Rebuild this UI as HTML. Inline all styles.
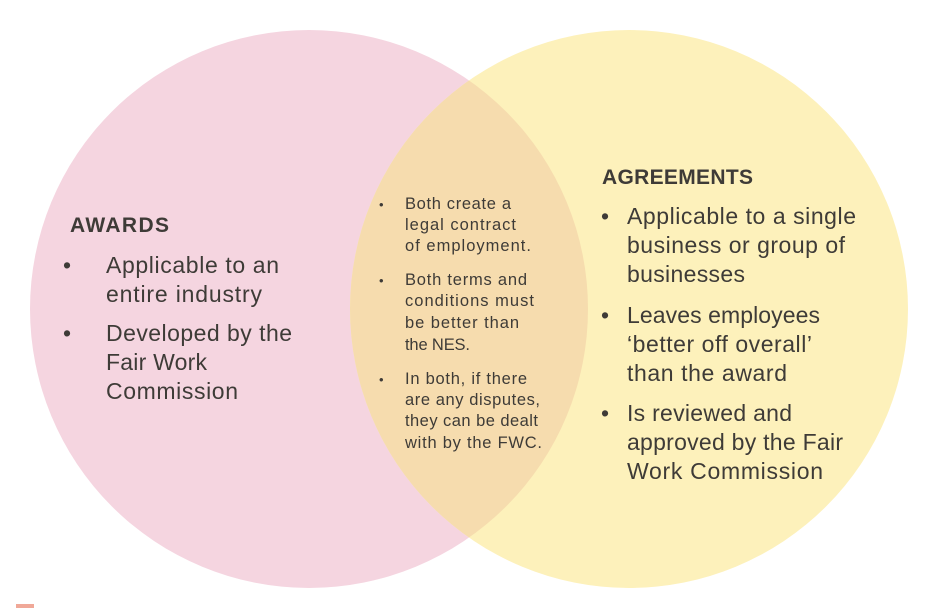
<!DOCTYPE html>
<html><head><meta charset="utf-8"><style>
html,body{margin:0;padding:0;background:#fff;}
svg{display:block;}
text{font-family:"Liberation Sans",sans-serif;fill:#3e3b37;}
</style></head><body>
<svg width="936" height="608" viewBox="0 0 936 608" xmlns="http://www.w3.org/2000/svg">
<defs><clipPath id="c"><circle cx="309" cy="309" r="279"/></clipPath></defs>
<rect width="936" height="608" fill="#fff"/>
<circle cx="309" cy="309" r="279" fill="#f5d5e0"/>
<circle cx="629" cy="309" r="279" fill="#fdf1bb"/>
<circle cx="629" cy="309" r="279" fill="#f6dcae" clip-path="url(#c)"/>
<rect x="16" y="604" width="18" height="4" fill="#f0a898"/>
<g font-size="23">
<text x="70" y="232" font-weight="bold" font-size="21" textLength="99">AWARDS</text>
<text x="63" y="273">•</text>
<text x="106" y="273" textLength="173">Applicable to an</text>
<text x="106" y="302" textLength="156">entire industry</text>
<text x="63" y="341">•</text>
<text x="106" y="341" textLength="186">Developed by the</text>
<text x="106" y="370" textLength="101">Fair Work</text>
<text x="106" y="399" textLength="132">Commission</text>

<text x="602" y="184" font-weight="bold" font-size="21" textLength="151">AGREEMENTS</text>
<text x="601" y="224">•</text>
<text x="627" y="224" textLength="229">Applicable to a single</text>
<text x="627" y="253" textLength="218">business or group of</text>
<text x="627" y="282" textLength="118">businesses</text>
<text x="601" y="323">•</text>
<text x="627" y="323" textLength="193">Leaves employees</text>
<text x="627" y="352" textLength="185">‘better off overall’</text>
<text x="627" y="381" textLength="160">than the award</text>
<text x="601" y="421">•</text>
<text x="627" y="421" textLength="165">Is reviewed and</text>
<text x="627" y="450" textLength="216">approved by the Fair</text>
<text x="627" y="479" textLength="196">Work Commission</text>
</g>
<g font-size="16.5">
<text x="379" y="209" font-size="13">•</text>
<text x="405" y="209" textLength="106">Both create a</text>
<text x="405" y="230" textLength="111">legal contract</text>
<text x="405" y="251" textLength="126">of employment.</text>
<text x="379" y="285" font-size="13">•</text>
<text x="405" y="285" textLength="122">Both terms and</text>
<text x="405" y="306" textLength="129">conditions must</text>
<text x="405" y="328" textLength="114">be better than</text>
<text x="405" y="350" textLength="65">the NES.</text>
<text x="379" y="384" font-size="13">•</text>
<text x="405" y="384" textLength="122">In both, if there</text>
<text x="405" y="405" textLength="135">are any disputes,</text>
<text x="405" y="426" textLength="133">they can be dealt</text>
<text x="405" y="448" textLength="137">with by the FWC.</text>
</g>
</svg>
</body></html>
